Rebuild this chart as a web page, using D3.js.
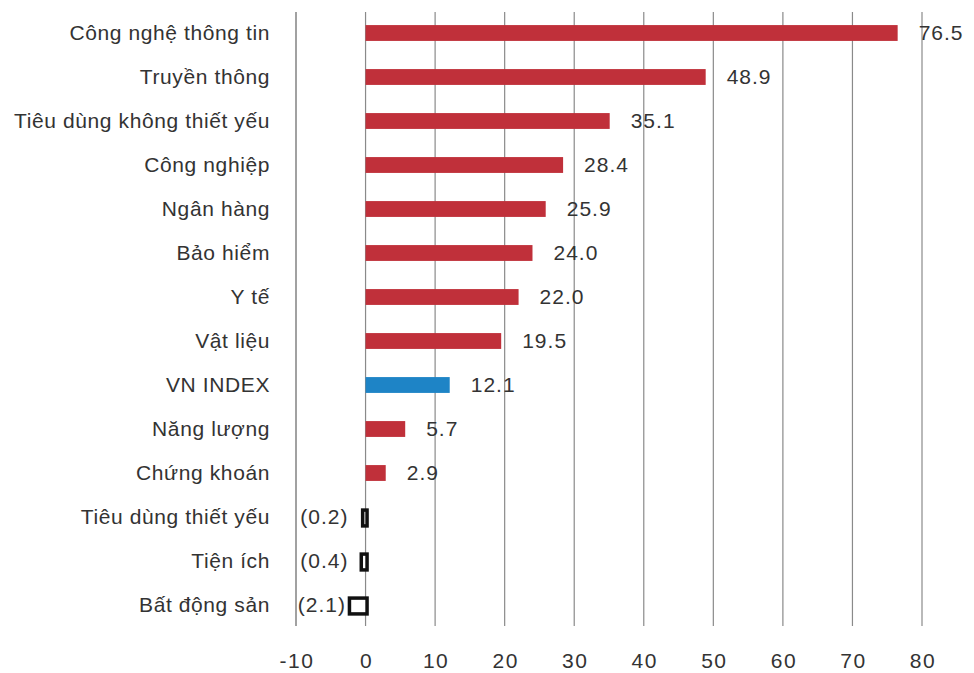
<!DOCTYPE html>
<html>
<head>
<meta charset="utf-8">
<script src="https://cdn.jsdelivr.net/npm/d3@7"></script>
<style>
  body { margin: 0; background: #fff; }
  svg text { font-family: "Liberation Sans", Arial, sans-serif; fill: #333; }
</style>
</head>
<body>
<div id="content"></div>
<script>
var categories = ["Công nghệ thông tin", "Truyền thông", "Tiêu dùng không thiết yếu", "Công nghiệp",
  "Ngân hàng", "Bảo hiểm", "Y tế", "Vật liệu", "VN INDEX", "Năng lượng", "Chứng khoán",
  "Tiêu dùng thiết yếu", "Tiện ích", "Bất động sản"];
var values = [76.5, 48.9, 35.1, 28.4, 25.9, 24.0, 22.0, 19.5, 12.1, 5.7, 2.9, -0.2, -0.4, -2.1];
var xTicks = [-10, 0, 10, 20, 30, 40, 50, 60, 70, 80];

var width = 974, height = 673;

var svg = d3.select("#content").append("svg")
  .attr("width", width)
  .attr("height", height);

var x = d3.scaleLinear().domain([-10, 80]).range([296, 922]);
var y = d3.scaleBand().domain(categories).range([11, 627]).paddingInner(0.64).paddingOuter(0.32);

function fmt(v) {
  return v < 0 ? "(" + Math.abs(v).toFixed(1) + ")" : v.toFixed(1);
}

// vertical grid lines
svg.selectAll(".grid")
  .data(xTicks)
  .enter().append("line")
  .attr("class", "grid")
  .attr("x1", function(d) { return x(d); })
  .attr("x2", function(d) { return x(d); })
  .attr("y1", 12)
  .attr("y2", 626)
  .attr("stroke", "#8a8a8a")
  .attr("stroke-width", function(d) { return d === -10 ? 1.6 : 1.2; });

// tick labels
svg.selectAll(".tick-label")
  .data(xTicks)
  .enter().append("text")
  .attr("class", "tick-label")
  .attr("x", function(d) { return x(d) + 1; })
  .attr("y", 668)
  .attr("text-anchor", "middle")
  .style("font-size", "21px")
  .style("letter-spacing", "1.5px")
  .text(function(d) { return d; });

// category labels
svg.selectAll(".cat")
  .data(categories)
  .enter().append("text")
  .attr("class", "cat")
  .attr("x", 270)
  .attr("y", function(d) { return y(d) + y.bandwidth() / 2; })
  .attr("dy", "0.35em")
  .attr("text-anchor", "end")
  .style("font-size", "21px")
  .style("letter-spacing", "0.6px")
  .text(function(d) { return d; });

var data = categories.map(function(c, i) { return { cat: c, v: values[i] }; });

// positive bars
svg.selectAll(".bar")
  .data(data.filter(function(d) { return d.v >= 0; }))
  .enter().append("rect")
  .attr("class", "bar")
  .attr("x", x(0))
  .attr("y", function(d) { return y(d.cat); })
  .attr("width", function(d) { return x(d.v) - x(0); })
  .attr("height", y.bandwidth())
  .attr("fill", function(d) { return d.cat === "VN INDEX" ? "#1e84c6" : "#c0303a"; });

// negative bars (outlined)
svg.selectAll(".neg")
  .data(data.filter(function(d) { return d.v < 0; }))
  .enter().append("rect")
  .attr("class", "neg")
  .attr("x", function(d) { return x(d.v) - 1.5; })
  .attr("y", function(d) { return y(d.cat) + 1; })
  .attr("width", function(d) { return x(0) - x(d.v) + 3; })
  .attr("height", y.bandwidth())
  .attr("fill", "#fff")
  .attr("stroke", "#111")
  .attr("stroke-width", 3.5);

// value labels
svg.selectAll(".val")
  .data(data)
  .enter().append("text")
  .attr("class", "val")
  .attr("x", function(d) {
    return d.v >= 0 ? x(d.v) + 21 : Math.min(x(0) - 17, x(d.v) - 5);
  })
  .attr("y", function(d) { return y(d.cat) + y.bandwidth() / 2; })
  .attr("dy", "0.35em")
  .attr("text-anchor", function(d) { return d.v >= 0 ? "start" : "end"; })
  .style("font-size", "21px")
  .style("letter-spacing", "1px")
  .text(function(d) { return fmt(d.v); });
</script>
</body>
</html>
